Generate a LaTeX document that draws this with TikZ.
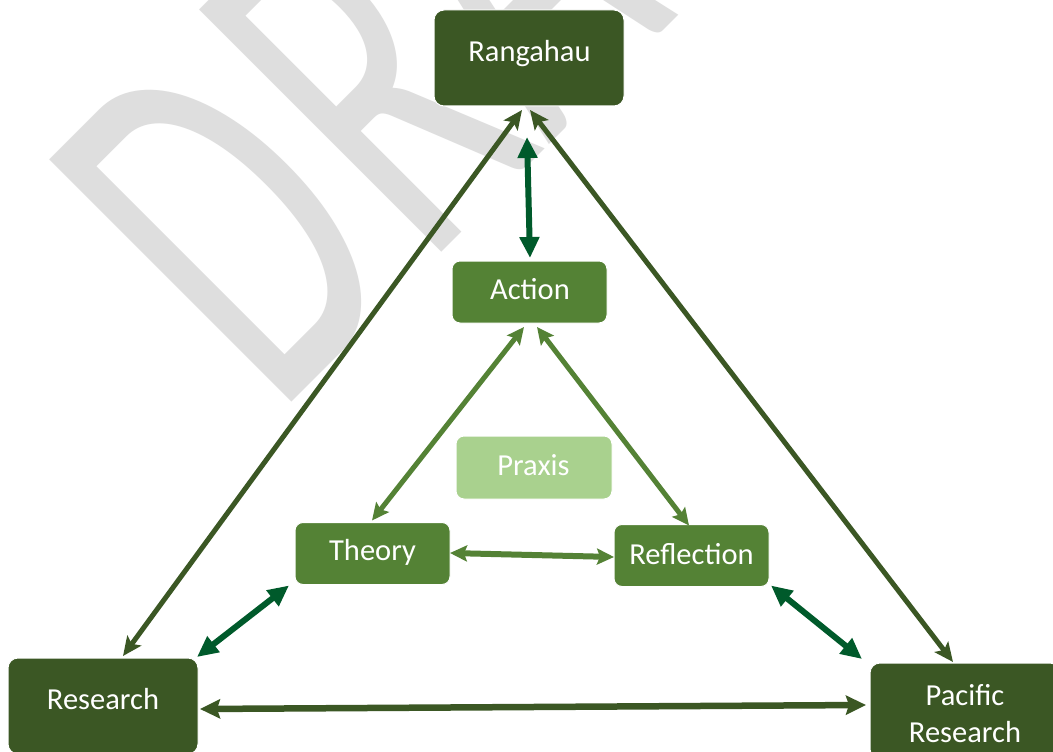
\documentclass[tikz,border=0pt]{standalone}
\usepackage{fontspec}
\setmainfont{Carlito}
\newfontfamily\wmfont{Carlito}
\usetikzlibrary{arrows.meta,calc}
\definecolor{dkg}{HTML}{3B5724}
\definecolor{mdg}{HTML}{548235}
\definecolor{ltg}{HTML}{A9D18E}
\definecolor{spk}{HTML}{005A2B}
\definecolor{wmg}{HTML}{DEDEDE}
\tikzset{
  boxbase/.style={draw=white, line width=1pt, inner sep=0pt, outer sep=0pt},
  bigbox/.style={boxbase, fill=dkg, rounded corners=10pt, minimum width=190pt, minimum height=96pt},
  midbox/.style={boxbase, fill=mdg, rounded corners=8pt, minimum width=155pt, minimum height=62pt},
  lightbox/.style={boxbase, fill=ltg, rounded corners=8pt, minimum width=156pt, minimum height=63pt},
  lbl/.style={text=white, font=\fontsize{30.5}{37}\selectfont, inner sep=0pt, anchor=base},
  triarr/.style={draw=dkg, line width=5pt, {Stealth[length=19pt,width=17pt,inset=4pt]}-{Stealth[length=19pt,width=17pt,inset=4pt]}},
  basearr/.style={draw=dkg, line width=6.5pt, {Stealth[length=20pt,width=19pt,inset=3pt]}-{Stealth[length=20pt,width=19pt,inset=3pt]}},
  spokearr/.style={draw=spk, line width=6pt, {Triangle[length=21pt,width=19pt]}-{Triangle[length=21pt,width=19pt]}},
  innerarr/.style={draw=mdg, line width=5pt, {Stealth[length=17pt,width=16pt,inset=3pt]}-{Stealth[length=17pt,width=16pt,inset=3pt]}},
}
\begin{document}
\begin{tikzpicture}[x=1pt,y=1pt]
\useasboundingbox (0,0) rectangle (1053,-752);
\clip (0,0) rectangle (1053,-752);
\fill[white] (0,0) rectangle (1053,-752);
% watermark
\begin{scope}[shift={(276.5,-417.5)}, rotate=45, xscale=0.6, transform shape]
  \node[anchor=base west, inner sep=0pt, outer sep=0pt, text=wmg, font=\wmfont\fontsize{534}{534}\selectfont] (wm) at (0,0) {D\kern22pt RAFT};
\end{scope}
% boxes
\node[bigbox] (rang) at (529,-58) {};
\node[midbox] (action) at (529.5,-292) {};
\node[lightbox] (praxis) at (534,-467.5) {};
\node[midbox] (theory) at (372.5,-553.5) {};
\node[midbox] (refl) at (691.5,-555.5) {};
\node[bigbox] (research) at (103,-706) {};
\node[bigbox] (pacific) at (965,-711) {};
% labels
\node[lbl] (rangt) at (529.5,-62) {Rangahau};
\node[lbl] (actiont) at (530,-299) {Action};
\node[lbl] (praxist) at (533.5,-475) {Praxis};
\node[lbl] (theoryt) at (372.5,-560) {Theory};
\node[lbl] (reflt) at (691.5,-564) {Reflection};
\node[lbl] (researcht) at (103,-709) {Research};
\node[lbl] (pacta) at (965,-705) {Pacific};
\node[lbl] (pactb) at (965,-742) {Research};
% connectors
\draw[triarr] ($(rang.south)+(-7,-4)$) -- ($(research.north)+(20,2)$);
\draw[triarr] ($(rang.south)+(1,-4)$) -- ($(pacific.north)+(-12,1)$);
\draw[spokearr] ($(rang.south)+(-2,-31)$) -- ($(action.north)+(0.5,3)$);
\draw[innerarr] ($(action.south)+(-5.5,-4)$) -- ($(theory.north)+(-0.5,2)$);
\draw[innerarr] ($(action.south)+(7.5,-4)$) -- ($(refl.north)+(-2.5,-1)$);
\draw[innerarr, line width=6pt] ($(theory.east)+(0,0.5)$) -- ($(refl.west)+(0,-1.5)$);
\draw[spokearr] ($(theory.south west)+(-6,-1)$) -- ($(research.north east)+(-1,1)$);
\draw[spokearr] ($(refl.south east)+(2,1)$) -- ($(pacific.north west)+(-8,4)$);
\draw[basearr] ($(research.east)+(2,-3)$) -- ($(pacific.west)+(-4,6)$);
\end{tikzpicture}
\end{document}
